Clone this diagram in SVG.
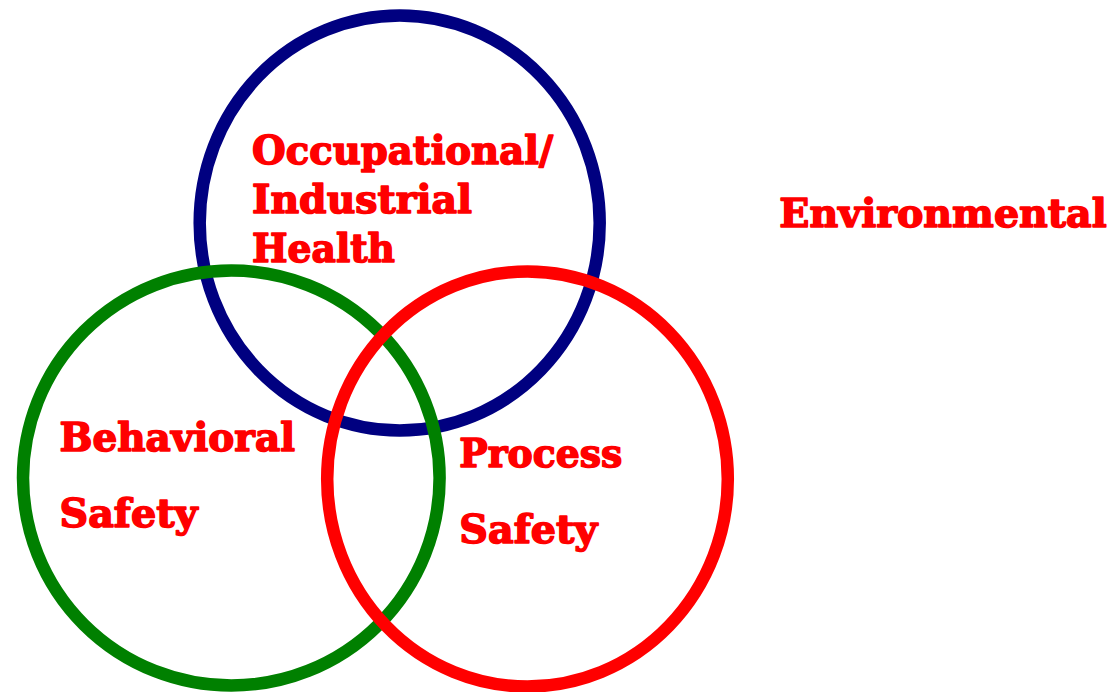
<svg xmlns="http://www.w3.org/2000/svg" width="1115" height="692" viewBox="0 0 1115 692">
<style>
.ring{fill:none;stroke-width:12.5}
.lbl{font-family:"DejaVu Serif","Liberation Serif",serif;font-weight:bold;font-size:40px;fill:#FF0000;stroke:#FF0000;stroke-width:1.6;stroke-linejoin:round}
</style>
<rect width="1115" height="692" fill="#FFFFFF"/>
<g id="occupational">
<ellipse class="ring" cx="399.7" cy="223" rx="200" ry="207.5" stroke="#000080"/>
<text class="lbl" x="252" y="163.5" textLength="301" lengthAdjust="spacingAndGlyphs">Occupational/</text>
<text class="lbl" x="252" y="213" textLength="220" lengthAdjust="spacingAndGlyphs">Industrial</text>
<text class="lbl" x="252" y="262" textLength="143" lengthAdjust="spacingAndGlyphs">Health</text>
</g>
<g id="behavioral">
<ellipse class="ring" cx="231.3" cy="478" rx="208.3" ry="207.5" stroke="#008000"/>
<text class="lbl" x="59.5" y="450.7" textLength="235.5" lengthAdjust="spacingAndGlyphs">Behavioral</text>
<text class="lbl" x="59.5" y="526.7" textLength="138" lengthAdjust="spacingAndGlyphs">Safety</text>
</g>
<g id="process">
<ellipse class="ring" cx="527.5" cy="479" rx="200.3" ry="207.5" stroke="#FF0000"/>
<text class="lbl" x="459.3" y="466.7" textLength="163" lengthAdjust="spacingAndGlyphs">Process</text>
<text class="lbl" x="459.3" y="543.3" textLength="138" lengthAdjust="spacingAndGlyphs">Safety</text>
</g>
<g id="environmental">
<text class="lbl" x="779.3" y="226.7" textLength="327.4" lengthAdjust="spacingAndGlyphs">Environmental</text>
</g>
<g id="connectors"/>
</svg>
